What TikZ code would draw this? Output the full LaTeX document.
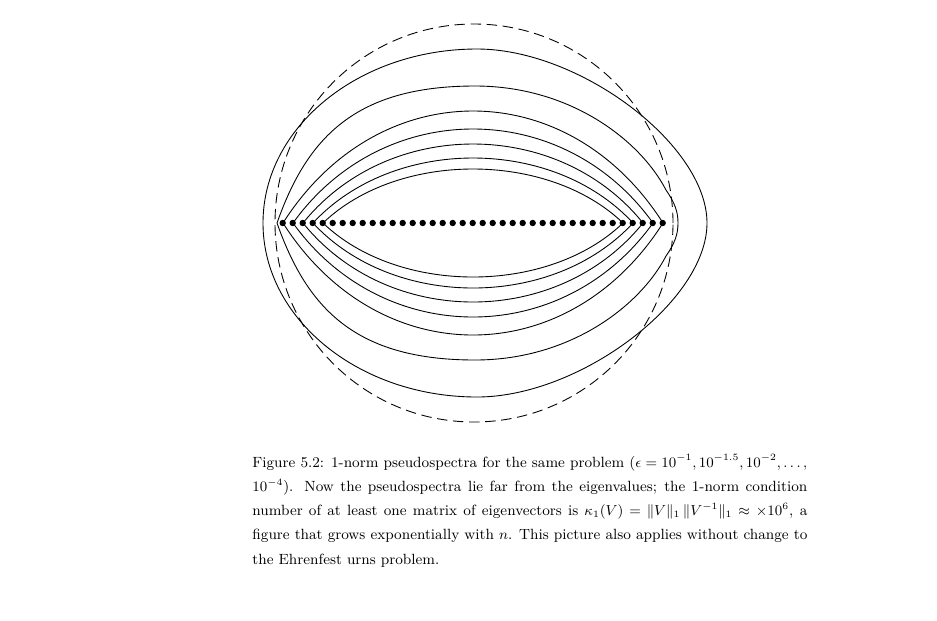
\documentclass[tikz,border=0pt]{standalone}
\usepackage{tikz}
\usepackage{mathtools}

\begin{document}
\begin{tikzpicture}[x=0.6217pt, y=0.6217pt, line width=0.55pt]
	\tikzstyle{every node}+=[inner sep=0pt]
	\useasboundingbox (0,0) rectangle (937,-620);
	% outer contour
	\draw [black] (263,-223) .. controls (263,-127) and (359,-49) .. (477,-49) .. controls (580,-49) and (707,-145) .. (707,-223) .. controls (707,-301) and (580,-397) .. (477,-397) .. controls (359,-397) and (263,-319) .. cycle;
	% second contour
	\draw [black] (277,-223) .. controls (307,-138) and (355,-86) .. (475,-86) .. controls (570,-86) and (640,-140) .. (666,-190) .. controls (675,-203) and (678,-212) .. (678,-223) .. controls (678,-234) and (675,-243) .. (666,-256) .. controls (640,-306) and (570,-360) .. (475,-360) .. controls (355,-360) and (307,-308) .. cycle;
	% inner contours
	\foreach \l/\r/\h in {283/663/112, 293/653/94, 303/643/79, 313/633/65, 323/623/54} {
		\pgfmathsetmacro{\a}{0.25*(\r-\l)}
		\pgfmathsetmacro{\k}{4*\h/3}
		\draw [black] (\l,-223) .. controls ({\l+\a},{-223+\k}) and ({\r-\a},{-223+\k}) .. (\r,-223) .. controls ({\r-\a},{-223-\k}) and ({\l+\a},{-223-\k}) .. cycle;
	}
	\draw [black, dash pattern=on 6.5pt off 3.5pt] (474,-223) circle (199);
	% eigenvalues
	\foreach \i in {0,...,38}
		\fill [black] ({282.7+10*\i},-223) circle (3.2);
	\node (caption) [anchor=base west] at (252,-467) {\parbox[t]{345pt}{\fontsize{9.2}{15.1}\selectfont
		\hbox to 345pt{Figure 5.2: 1-norm pseudospectra for the same problem ($\epsilon = 10^{-1}, 10^{-1.5}, 10^{-2}, \ldots,$}
		$10^{-4}$). Now the pseudospectra lie far from the eigenvalues; the 1-norm condition\linebreak
		number of at least one matrix of eigenvectors is $\kappa_1(V) = \|V\|_1\,\|V^{-1}\|_1 \approx \times 10^6$, a\linebreak
		figure that grows exponentially with $n$. This picture also applies without change to\linebreak
		the Ehrenfest urns problem.}};
\end{tikzpicture}
\end{document}
